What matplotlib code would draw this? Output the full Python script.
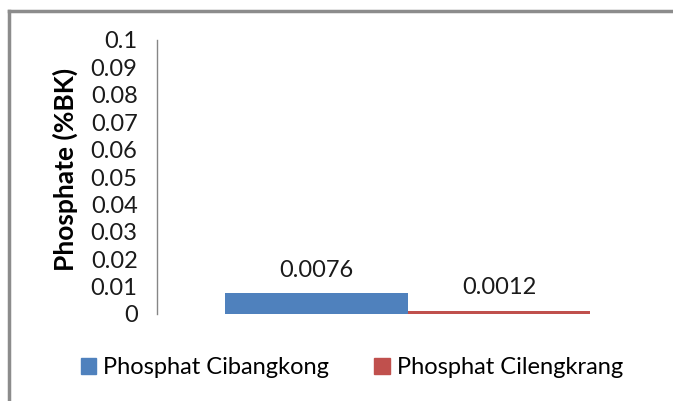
import matplotlib.pyplot as plt
from matplotlib.patches import Rectangle
from matplotlib.lines import Line2D

series = ['Phosphat Cibangkong', 'Phosphat Cilengkrang']
values = [0.0076, 0.0012]
labels = ['0.0076', '0.0012']
colors = ['#4F81BD', '#C0504D']
yticks = [0, 0.01, 0.02, 0.03, 0.04, 0.05, 0.06, 0.07, 0.08, 0.09, 0.1]
ytick_labels = ['0', '0.01', '0.02', '0.03', '0.04', '0.05', '0.06', '0.07', '0.08', '0.09', '0.1']

plt.rcParams['font.family'] = ['Lato', 'DejaVu Sans']

fig = plt.figure(figsize=(6.73, 4.01), dpi=100)
W, H = 673, 401
# plot area in pixels: x 157..658, y 40..314
ax = fig.add_axes([157 / W, 1 - 314 / H, (658 - 157) / W, (314 - 40) / H])

offsets = [-1, 0]
for off, v, c, lab in zip(offsets, values, colors, labels):
    ax.bar(off, v, width=1, align='edge', color=c)
    ax.text(off + 0.5, v + 0.0045, lab, ha='center', va='bottom', fontsize=17, color='#1a1a1a')

ax.set_xlim(-1.37, 1.37)
ax.set_ylim(0, 0.1)
ax.set_yticks(yticks)
ax.set_yticklabels(ytick_labels, fontsize=17, color='#1a1a1a')
ax.set_xticks([])
ax.tick_params(axis='y', length=0, pad=14)
for s in ['top', 'right', 'bottom']:
    ax.spines[s].set_visible(False)
ax.spines['left'].set_color('#868686')
ax.spines['left'].set_linewidth(1)

fig.text(65 / W, 1 - 169 / H, 'Phosphate (%BK)', rotation=90, ha='center', va='center',
         fontsize=19, fontweight='bold', color='#000000')

handles = [Rectangle((0, 0), 1, 1, color=c) for c in colors]
fig.legend(handles, series, loc='center', bbox_to_anchor=(352 / W, 1 - 368 / H), ncol=2,
           frameon=False, fontsize=17, handlelength=0.65, handleheight=0.65,
           handletextpad=0.3, columnspacing=1.9)

# chart border (top and left edges visible)
fig.add_artist(Line2D([9 / W, 1], [1 - 11 / H, 1 - 11 / H], color='#8c8c8c', lw=2.5, transform=fig.transFigure))
fig.add_artist(Line2D([9 / W, 9 / W], [0, 1 - 11 / H], color='#8c8c8c', lw=2.5, transform=fig.transFigure))

fig.savefig('out.png', dpi=100)
